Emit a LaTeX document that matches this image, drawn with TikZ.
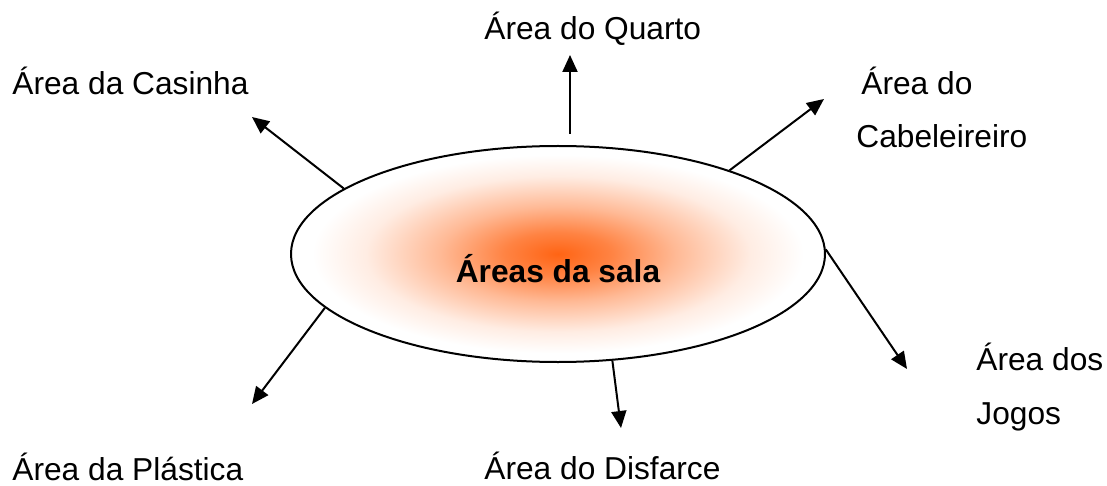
\documentclass[tikz,border=0pt]{standalone}
\usepackage{fontspec}
\setmainfont{Liberation Sans}
\usetikzlibrary{arrows.meta,calc,shapes.geometric}
\definecolor{ink}{HTML}{000000}
\definecolor{salaorange}{HTML}{FF6414}
\pgfdeclareradialshading{salaglow}{\pgfpoint{0bp}{0bp}}{color(0bp)=(salaorange);
 color(5bp)=(salaorange!80!white); color(11bp)=(salaorange!45!white);
 color(18bp)=(salaorange!12!white); color(23bp)=(white); color(25bp)=(white); color(50bp)=(white)}

\begin{document}
\begin{tikzpicture}[
 x=0.5pt,y=-0.5pt,
 every node/.style={font=\fontsize{15.85}{26.5}\selectfont,inner sep=0pt},
 salanode/.style={ellipse,draw=ink,line width=1pt,shading=salaglow,
 minimum width=267pt,minimum height=108pt},
 arealabel/.style={anchor=base west,align=left},
 areaflow/.style={-{Triangle[length=8.5pt,width=7.5pt]},draw=ink,line width=1pt}]
\useasboundingbox (0,0) rectangle (1107,486);
\node[salanode] (sala) at (558,254) {};
\node[font=\fontsize{15.85}{19}\selectfont\bfseries,anchor=base] (titulo) at (558,282) {Áreas da sala};
\node[arealabel] (quarto) at (484,40) {Área do Quarto};
\node[arealabel] (casinha) at (12,95) {Área da Casinha};
\node[arealabel] (cabeleireiro) at (856,148) {\hspace*{2.5pt}Área do\\Cabeleireiro};
\node[arealabel] (jogos) at (976,424) {Área dos\\[0.5pt]Jogos};
\node[arealabel] (plastica) at (12,480) {Área da Plástica};
\node[arealabel] (disfarce) at (484,479) {Área do Disfarce};
\coordinate (toquarto) at (570,55);
\coordinate (tocasinha) at (252,117);
\coordinate (tocabeleireiro) at (824,99);
\coordinate (tojogos) at (907,369);
\coordinate (toplastica) at (252,404);
\coordinate (todisfarce) at (621,428);
\draw[areaflow] ($(sala.north)+(12,-11)$) -- (toquarto);
\draw[areaflow] (sala.163) -- (tocasinha);
\draw[areaflow] (sala.26) -- (tocabeleireiro);
\draw[areaflow] (sala.1) -- (tojogos);
\draw[areaflow] (sala.193) -- (toplastica);
\draw[areaflow] (sala.297) -- (todisfarce);
\end{tikzpicture}
\end{document}
